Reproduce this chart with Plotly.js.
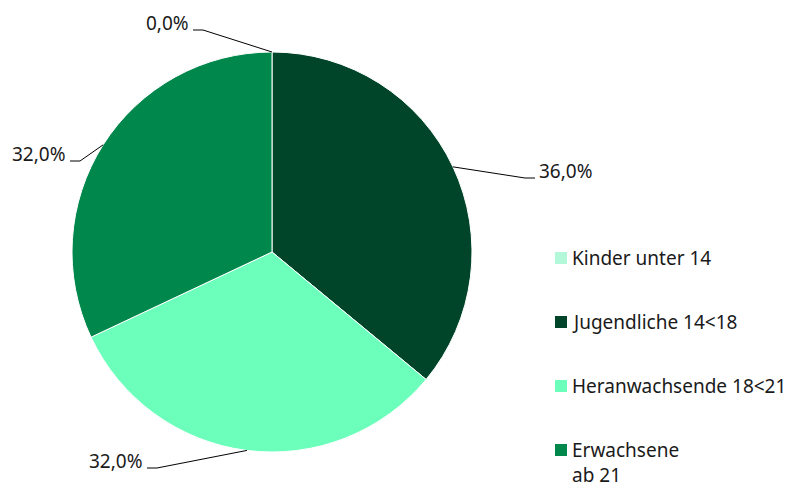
<!DOCTYPE html>
<html><head><meta charset="utf-8">
<script src="https://cdn.plot.ly/plotly-3.0.1.min.js"></script>
<style>body{margin:0;background:#fff}#chart{width:803px;height:484px}</style>
</head><body><div id="chart"></div>
<script>
const categories = ["Kinder unter 14", "Jugendliche 14<18", "Heranwachsende 18<21", "Erwachsene<br>ab 21"];
const values = [0.0, 36.0, 32.0, 32.0];
const percentLabels = ["0,0%", "36,0%", "32,0%", "32,0%"];
const colors = ["#b2f8d9", "#00452a", "#6bffbb", "#00884c"];

const W = 803, H = 484;
const cx = 272, cy = 252, R = 200;
// label elbow positions (px) and side
const labelElbows = [[203, 30, -1], [525, 178, 1], [157, 468, -1], [80, 161, -1]];
const FONT = "Noto Sans, Open Sans, sans-serif";

const px = x => x / W, py = y => 1 - y / H;
const total = values.reduce((a, b) => a + b, 0);
const shapes = [], annotations = [];
let cum = 0;
values.forEach((v, i) => {
  const mid = (cum + v / 2) / total * 2 * Math.PI;
  cum += v;
  const ex = cx + R * Math.sin(mid), ey = cy - R * Math.cos(mid);
  const [lx, ly, side] = labelElbows[i];
  const hx = lx + side * 10;
  shapes.push({type: "line", xref: "paper", yref: "paper", x0: px(ex), y0: py(ey), x1: px(lx), y1: py(ly), line: {color: "#000", width: 1}});
  shapes.push({type: "line", xref: "paper", yref: "paper", x0: px(lx), y0: py(ly), x1: px(hx), y1: py(ly), line: {color: "#000", width: 1}});
  annotations.push({xref: "paper", yref: "paper", x: px(hx + side * 2), y: py(ly - 7), text: percentLabels[i], showarrow: false,
    xanchor: side > 0 ? "left" : "right", yanchor: "middle", font: {family: FONT, size: 19, color: "#1a1a1a"}});
});
// legend
const legX = 555, legY0 = 258, legStep = 64, sq = 12;
categories.forEach((c, i) => {
  const y = legY0 + i * legStep;
  shapes.push({type: "rect", xref: "paper", yref: "paper", x0: px(legX), x1: px(legX + sq), y0: py(y - sq / 2), y1: py(y + sq / 2), fillcolor: colors[i], line: {width: 0}});
  annotations.push({xref: "paper", yref: "paper", x: px(legX + sq + 4), y: py(y - 14), text: c, showarrow: false, align: "left",
    xanchor: "left", yanchor: "top", borderpad: 0, font: {family: FONT, size: 19, color: "#1a1a1a"}});
});

const data = [{
  type: "pie", labels: categories, values: values, sort: false, direction: "clockwise", rotation: 0,
  marker: {colors: colors, line: {color: "#ffffff", width: 1}}, textinfo: "none", hoverinfo: "none",
  domain: {x: [px(cx - R), px(cx + R)], y: [py(cy + R), py(cy - R)]}, showlegend: false
}];
const layout = {width: W, height: H, margin: {l: 0, r: 0, t: 0, b: 0}, paper_bgcolor: "#fff",
  showlegend: false, shapes: shapes, annotations: annotations};
Plotly.newPlot("chart", data, layout, {displayModeBar: false, staticPlot: true});
</script></body></html>
